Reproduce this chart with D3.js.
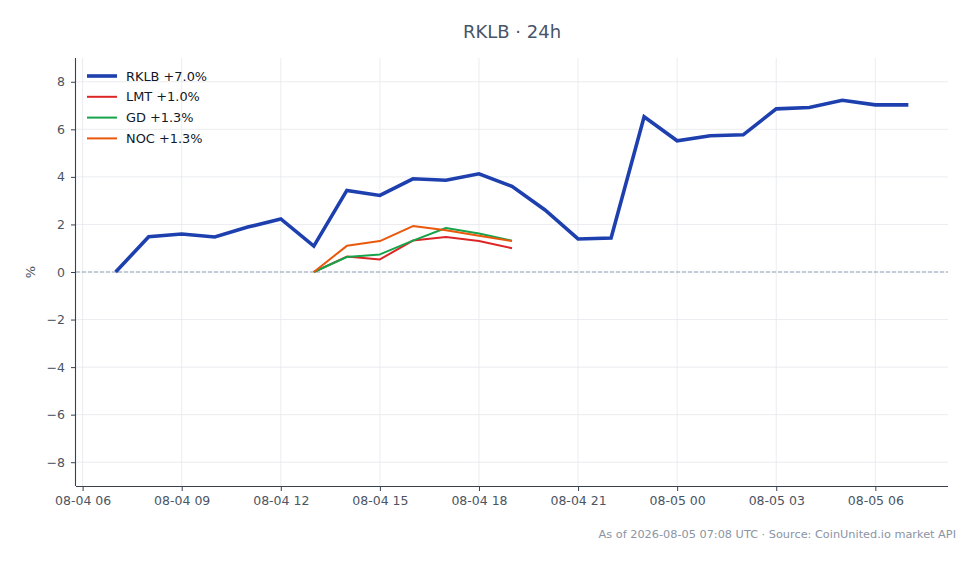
<!DOCTYPE html>
<html>
<head>
<meta charset="utf-8">
<script src="https://cdn.jsdelivr.net/npm/d3@7"></script>
<style>
  body { margin: 0; background: #fff; }
  svg { font-family: "DejaVu Sans", sans-serif; }
</style>
</head>
<body>
<svg id="chart"></svg>
<script>
// hourly timestamps (UTC)
const hours = [
  '2026-08-04T07:00', '2026-08-04T08:00', '2026-08-04T09:00', '2026-08-04T10:00',
  '2026-08-04T11:00', '2026-08-04T12:00', '2026-08-04T13:00', '2026-08-04T14:00',
  '2026-08-04T15:00', '2026-08-04T16:00', '2026-08-04T17:00', '2026-08-04T18:00',
  '2026-08-04T19:00', '2026-08-04T20:00', '2026-08-04T21:00', '2026-08-04T22:00',
  '2026-08-04T23:00', '2026-08-05T00:00', '2026-08-05T01:00', '2026-08-05T02:00',
  '2026-08-05T03:00', '2026-08-05T04:00', '2026-08-05T05:00', '2026-08-05T06:00',
  '2026-08-05T07:00'
];
const rklb = [0, 1.48, 1.6, 1.47, 1.89, 2.23, 1.09, 3.43, 3.22, 3.92, 3.86, 4.13, 3.6,
  2.61, 1.39, 1.43, 6.53, 5.52, 5.73, 5.77, 6.86, 6.92, 7.22, 7.03, 7.03];
// peers only have data 13:00 - 19:00
const peerHours = hours.slice(6, 13);
const lmt = [0, 0.65, 0.53, 1.32, 1.47, 1.3, 1.0];
const gd = [0, 0.63, 0.74, 1.32, 1.85, 1.62, 1.32];
const noc = [0, 1.1, 1.3, 1.93, 1.76, 1.52, 1.3];

const seriesNames = ['RKLB +7.0%', 'LMT +1.0%', 'GD +1.3%', 'NOC +1.3%'];
const seriesColors = ['#1e40af', '#dc2626', '#16a34a', '#ea580c'];
const yTicks = [-8, -6, -4, -2, 0, 2, 4, 6, 8];

const W = 980, H = 564;
const margin = { top: 58, right: 32, bottom: 78, left: 76 };
const width = W - margin.left - margin.right;
const height = H - margin.top - margin.bottom;

const parse = d3.utcParse('%Y-%m-%dT%H:%M');
const tx = hours.map(parse);
const ptx = peerHours.map(parse);

const svg = d3.select('#chart').attr('width', W).attr('height', H);

// matplotlib-like 5% margin on x
const span = tx[tx.length - 1] - tx[0];
const x = d3.scaleUtc()
  .domain([new Date(+tx[0] - span * 0.05), new Date(+tx[tx.length - 1] + span * 0.05)])
  .range([0, width]);
const y = d3.scaleLinear().domain([-9, 9]).range([height, 0]);

const chart = svg.append('g').attr('transform', `translate(${margin.left},${margin.top})`);

const xTicks = d3.utcHour.every(3).range(x.domain()[0], x.domain()[1]);

// grid
chart.append('g').selectAll('line').data(xTicks).enter().append('line')
  .attr('x1', d => x(d)).attr('x2', d => x(d)).attr('y1', 0).attr('y2', height)
  .attr('stroke', '#e5e7eb').attr('stroke-width', 0.8);
chart.append('g').selectAll('line').data(yTicks).enter().append('line')
  .attr('x1', 0).attr('x2', width).attr('y1', d => y(d)).attr('y2', d => y(d))
  .attr('stroke', '#e5e7eb').attr('stroke-width', 0.8);

// zero line
chart.append('line')
  .attr('x1', 0).attr('x2', width).attr('y1', y(0)).attr('y2', y(0))
  .attr('stroke', '#94a3b8').attr('stroke-width', 1).attr('stroke-dasharray', '4,2');

// axes
const fmt = d3.utcFormat('%m-%d %H');
const xAxis = chart.append('g').attr('transform', `translate(0,${height})`)
  .call(d3.axisBottom(x).tickValues(xTicks).tickFormat(fmt).tickSize(5).tickPadding(5));
const yAxis = chart.append('g')
  .call(d3.axisLeft(y).tickValues(yTicks).tickFormat(d => d < 0 ? '\u2212' + Math.abs(d) : d).tickSize(5).tickPadding(6));
[xAxis, yAxis].forEach(a => {
  a.select('.domain').attr('stroke', '#374151').attr('stroke-width', 1.1);
  a.selectAll('.tick line').attr('stroke', '#374151');
  a.selectAll('.tick text').attr('fill', '#4b5563').attr('font-size', 12.5)
    .attr('font-family', '"DejaVu Sans", sans-serif');
});
xAxis.select('.domain').attr('d', `M0,0.5H${width}`);
yAxis.select('.domain').attr('d', `M-0.5,0V${height}`);

// lines
const line = d3.line().x(d => x(d[0])).y(d => y(d[1]));
const peers = [lmt, gd, noc];
peers.forEach((vals, i) => {
  chart.append('path')
    .datum(ptx.map((t, j) => [t, vals[j]]))
    .attr('fill', 'none').attr('stroke', seriesColors[i + 1]).attr('stroke-width', 2)
    .attr('stroke-linejoin', 'round').attr('d', line);
});
chart.append('path')
  .datum(tx.map((t, j) => [t, rklb[j]]))
  .attr('fill', 'none').attr('stroke', seriesColors[0]).attr('stroke-width', 3.6)
  .attr('stroke-linejoin', 'miter').attr('d', line);

// legend
const legend = chart.append('g').attr('transform', 'translate(11,18)');
seriesNames.forEach((name, i) => {
  const g = legend.append('g').attr('transform', `translate(0,${i * 20.8})`);
  g.append('line').attr('x1', 0).attr('x2', 30).attr('y1', 0).attr('y2', 0)
    .attr('stroke', seriesColors[i]).attr('stroke-width', i === 0 ? 3.6 : 2);
  g.append('text').attr('x', 39).attr('y', 4.6).attr('font-size', 12.9)
    .attr('fill', '#111827').text(name);
});

// titles
svg.append('text').attr('x', 512).attr('y', 38).attr('text-anchor', 'middle')
  .attr('font-size', 18).attr('fill', '#475569').text('RKLB \u00b7 24h');
svg.append('text').attr('transform', `translate(35,${margin.top + y(0)}) rotate(-90)`)
  .attr('text-anchor', 'middle').attr('font-size', 13).attr('fill', '#4b5563').text('%');
svg.append('text').attr('x', 956).attr('y', 538).attr('text-anchor', 'end')
  .attr('font-size', 11.3).attr('fill', '#8b94a3')
  .text('As of 2026-08-05 07:08 UTC \u00b7 Source: CoinUnited.io market API');
</script>
</body>
</html>
